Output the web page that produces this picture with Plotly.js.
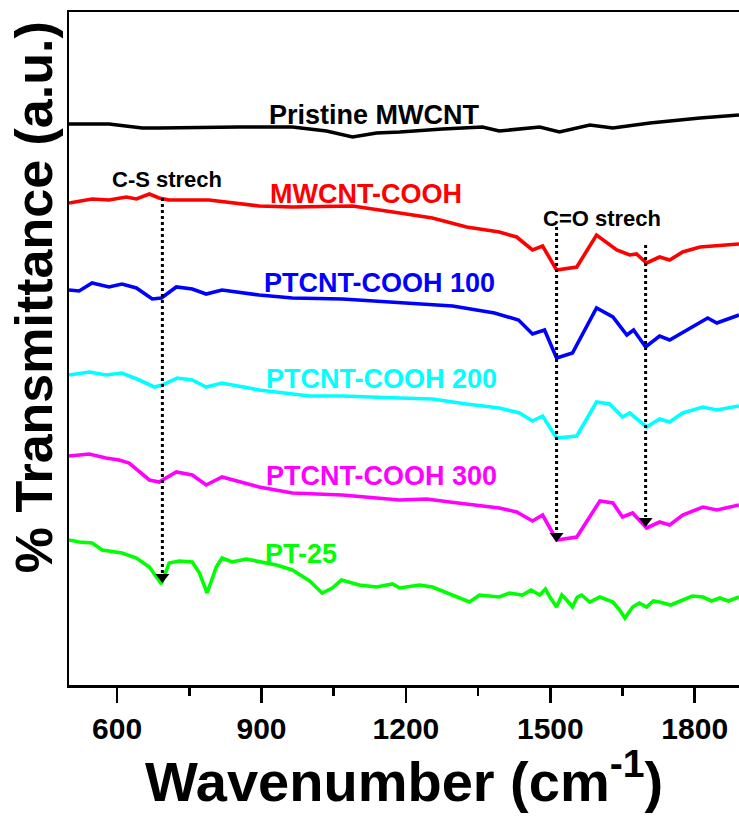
<!DOCTYPE html>
<html>
<head>
<meta charset="utf-8">
<script src="https://cdn.plot.ly/plotly-3.0.1.min.js"></script>
<style>html,body{margin:0;padding:0;background:#fff;}#chart{width:739px;height:817px;}</style>
</head>
<body>
<div id="chart"></div>
<script>
// Wavenumber (cm-1) and transmittance (a.u., offset-stacked)
const pristineX = [500, 583, 652, 687, 854, 964, 1035, 1089, 1139, 1187, 1276, 1359, 1394, 1478, 1519, 1582, 1630, 1707, 1811, 1892];
const pristineY = [561, 561, 557, 557, 558, 558, 554, 548, 552, 553, 556, 558, 554, 558, 553, 560, 557, 562, 567, 570];

const coohX = [500, 548, 583, 619, 640, 667, 687, 708, 791, 895, 964, 1089, 1187, 1255, 1326, 1394, 1430, 1463, 1484, 1513, 1555, 1596, 1638, 1665, 1679, 1700, 1727, 1748, 1775, 1811, 1892];
const coohY = [482, 486, 485, 488, 486, 491, 487, 485, 485, 479, 478, 479, 472, 467, 458, 453, 448, 435, 439, 415, 418, 450, 435, 430, 431, 422, 428, 425, 433, 438, 441];

const pt100X = [500, 521, 548, 583, 610, 640, 673, 692, 723, 756, 785, 818, 895, 964, 1068, 1187, 1297, 1384, 1434, 1463, 1488, 1513, 1546, 1596, 1630, 1659, 1673, 1698, 1727, 1748, 1796, 1827, 1846, 1892];
const pt100Y = [395, 394, 402, 398, 401, 397, 386, 387, 398, 396, 391, 395, 390, 387, 386, 382, 379, 372, 365, 351, 355, 327, 332, 377, 368, 350, 355, 338, 349, 345, 358, 367, 362, 370];

const pt200X = [500, 542, 577, 610, 646, 677, 694, 725, 756, 785, 818, 895, 1000, 1068, 1187, 1255, 1326, 1394, 1436, 1463, 1484, 1513, 1555, 1596, 1623, 1650, 1665, 1700, 1727, 1748, 1775, 1817, 1846, 1892];
const pt200Y = [310, 313, 310, 312, 305, 298, 300, 307, 305, 298, 302, 295, 289, 289, 287, 286, 281, 277, 272, 264, 269, 247, 249, 283, 281, 268, 272, 258, 266, 263, 272, 278, 275, 279];

const pt300X = [500, 542, 577, 604, 625, 667, 687, 723, 756, 785, 818, 895, 964, 1068, 1187, 1243, 1291, 1394, 1430, 1463, 1484, 1513, 1555, 1603, 1630, 1650, 1671, 1700, 1727, 1748, 1775, 1817, 1846, 1892];
const pt300Y = [229, 231, 227, 225, 222, 205, 203, 213, 210, 200, 208, 198, 192, 190, 185, 186, 183, 177, 173, 164, 170, 145, 148, 184, 182, 168, 172, 157, 163, 160, 170, 178, 175, 180];

const pt25X = [500, 521, 548, 569, 610, 640, 667, 681, 692, 708, 729, 756, 771, 787, 806, 818, 839, 868, 931, 964, 1000, 1026, 1047, 1066, 1103, 1139, 1172, 1187, 1228, 1255, 1305, 1332, 1353, 1394, 1415, 1442, 1460, 1478, 1490, 1499, 1513, 1524, 1534, 1546, 1556, 1565, 1582, 1603, 1630, 1644, 1655, 1671, 1685, 1700, 1714, 1727, 1750, 1775, 1795, 1817, 1835, 1852, 1870, 1892];
const pt25Y = [145, 143, 142, 135, 132, 127, 118, 108, 101, 122, 124, 123, 112, 92, 118, 127, 123, 126, 120, 115, 104, 92, 97, 105, 100, 98, 101, 97, 100, 98, 88, 83, 90, 88, 92, 90, 95, 90, 96, 88, 78, 90, 85, 78, 88, 90, 83, 88, 83, 75, 67, 78, 82, 78, 84, 83, 80, 85, 89, 88, 84, 87, 84, 88];

// Series labels and their anchor positions (data coordinates)
const seriesNames = ["Pristine MWCNT", "MWCNT-COOH", "PTCNT-COOH 100", "PTCNT-COOH 200", "PTCNT-COOH 300", "PT-25"];
const seriesColors = ["#000000", "#ff0000", "#0000ff", "#00ffff", "#ff00ff", "#00ff00"];
const labelX = [1135, 1118, 1145, 1149, 1149, 983];
const labelY = [570, 491, 402, 306, 209, 131];

// Guide lines for the C-S and C=O stretch bands
const guideX = [694, 1513, 1698];
const guideTop = [487, 458, 440];
const guideTip = [102, 143, 158];
const noteText = ["C-S strech", "C=O strech"];
const noteX = [704, 1607];
const noteY = [506, 467];

const font = "Liberation Sans, Arial, sans-serif";

const seriesX = [pristineX, coohX, pt100X, pt200X, pt300X, pt25X];
const seriesY = [pristineY, coohY, pt100Y, pt200Y, pt300Y, pt25Y];

const traces = seriesX.map((xs, i) => ({
  x: xs, y: seriesY[i], type: "scatter", mode: "lines",
  line: {color: seriesColors[i], width: 3.6}, showlegend: false, hoverinfo: "skip"
}));

traces.push({
  x: guideX, y: guideTip.map(v => v + 6), type: "scatter", mode: "markers",
  marker: {symbol: "triangle-down", size: 12, color: "#000"}, showlegend: false, hoverinfo: "skip"
});

const shapes = guideX.map((gx, i) => ({
  type: "line", xref: "x", yref: "y", x0: gx, x1: gx, y0: guideTop[i], y1: guideTip[i] + 10,
  line: {color: "#000", width: 3, dash: "dot"}
}));

const annotations = seriesNames.map((n, i) => ({
  x: labelX[i], y: labelY[i], xref: "x", yref: "y", text: "<b>" + n + "</b>",
  showarrow: false, font: {family: font, size: 27, color: seriesColors[i]}
}));
noteText.forEach((t, i) => annotations.push({
  x: noteX[i], y: noteY[i], xref: "x", yref: "y", text: "<b>" + t + "</b>", showarrow: false,
  font: {family: font, size: 22, color: "#000"}
}));
annotations.push({
  x: -0.052, y: 0.5765, xref: "paper", yref: "paper", text: "<b>% Transmittance (a.u.)</b>",
  textangle: -90, showarrow: false, xanchor: "center", yanchor: "middle",
  font: {family: font, size: 52, color: "#000"}
});
annotations.push({
  x: 0.5, y: -0.1925, xref: "paper", yref: "paper", text: "<b>Wavenumber (cm<sup>-1</sup>)</b>",
  showarrow: false, xanchor: "center", yanchor: "bottom",
  font: {family: font, size: 56, color: "#000"}
});

const layout = {
  width: 739, height: 817,
  margin: {l: 69, r: 0, t: 12, b: 132},
  paper_bgcolor: "#fff", plot_bgcolor: "#fff",
  xaxis: {
    range: [500, 1892], showgrid: false, zeroline: false,
    showline: true, linecolor: "#000", linewidth: 2.5, mirror: true,
    tickmode: "array", tickvals: [600, 900, 1200, 1500, 1800],
    ticks: "outside", ticklen: 15, tickwidth: 2.5, tickcolor: "#000",
    minor: {tickvals: [750, 1050, 1350, 1650], ticks: "outside", ticklen: 8, tickwidth: 2.5, tickcolor: "#000"},
    tickfont: {family: font, size: 30, color: "#000", weight: "bold"}
  },
  yaxis: {
    range: [0, 673], showgrid: false, zeroline: false, showticklabels: false,
    showline: true, linecolor: "#000", linewidth: 2.5, ticks: ""
  },
  shapes: shapes,
  annotations: annotations
};

Plotly.newPlot("chart", traces, layout, {displayModeBar: false, staticPlot: true});
</script>
</body>
</html>
